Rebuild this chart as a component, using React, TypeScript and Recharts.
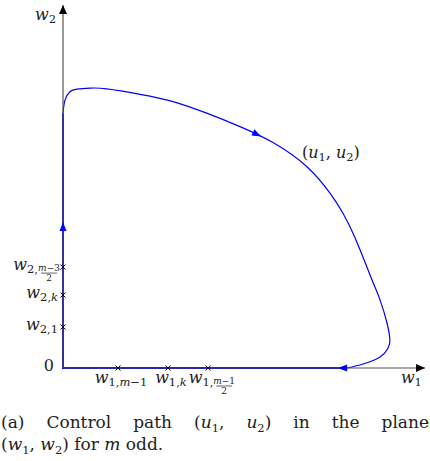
import { ComposedChart, Line, Scatter, XAxis, YAxis, ReferenceDot } from "recharts";

// control path (u1, u2), in plot units (0..100 on both axes)
const pathW1 = [0, 0.55, 1.9, 3.8, 7.5, 12.1, 21.3, 30.4, 39.7, 48.9, 58.0, 67.3, 73.8, 77.3, 80.7, 85.4, 87.6, 89.5, 90.3, 89.8, 87.6, 82.9, 78.5];
const pathW2 = [70.2, 73.8, 76.1, 76.8, 77.1, 76.9, 75.4, 73.4, 70.2, 66.5, 62.1, 55.5, 48.1, 42.7, 35.8, 24.2, 18.7, 12.4, 7.7, 5.5, 3.0, 1.1, 0];

// straight legs along the axes
const legW1 = [78.5, 0, 0];
const legW2 = [0, 0, 70.2];

// switching points on the axes
const crossW1 = [15.2, 29.0, 40.1];
const crossW2 = [11.3, 20.1, 27.8];
const yTicks = [0, 11.3, 20.1, 27.8];

// arrow heads on the path (tip position + heading in degrees)
const arrowW1 = [54.7, 0, 76.0];
const arrowW2 = [63.8, 40.2, 0];
const arrowAngle = [27, -90, 180];

// arrows at the ends of the axes
const axisArrowW1 = [0, 100];
const axisArrowW2 = [100, 0];
const axisArrowAngle = [-90, 0];

type Lbl = { main: string; sub?: string; num?: string; den?: string; dx?: number };
const xTickLabels: Lbl[] = [
  { main: "w", sub: "1,m−1" },
  { main: "w", sub: "1,k" },
  { main: "w", sub: "1,", num: "m−1", den: "2" },
];
const yTickLabels: Lbl[] = [
  { main: "0", dx: -4 },
  { main: "w", sub: "2,1" },
  { main: "w", sub: "2,k" },
  { main: "w", sub: "2,", num: "m−3", den: "2" },
];

const SERIF = "'DejaVu Serif', 'Liberation Serif', serif";
const INK = "#222";

const toPts = (xs: number[], ys: number[]) => xs.map((x, i) => ({ x, y: ys[i] }));
const pathData = toPts(pathW1, pathW2);
const legData = toPts(legW1, legW2);
const crossData = [...crossW1.map((x) => ({ x, y: 0 })), ...crossW2.map((y) => ({ x: 0, y }))];
const arrowData = arrowW1.map((x, i) => ({ x, y: arrowW2[i], angle: arrowAngle[i] }));
const axisArrowData = axisArrowW1.map((x, i) => ({ x, y: axisArrowW2[i], angle: axisArrowAngle[i] }));

// subscript text: letters italic, digits and commas upright
function subSpans(s: string) {
  return s.split("").map((c, i) => (
    <tspan key={i} fontStyle={/[a-z]/.test(c) ? "italic" : "normal"}>
      {c}
    </tspan>
  ));
}

const FRAC_W = 20;

function MathText({ x, y, lbl, anchor }: { x: number; y: number; lbl: Lbl; anchor: "end" | "middle" }) {
  const fracW = lbl.num ? FRAC_W : 0;
  const italic = lbl.main !== "0";
  // approximate width of main + subscript, used to put the fraction after it
  const mainW = 13 + (lbl.sub ? lbl.sub.length * 6.5 : 0);
  const tx = anchor === "end" ? x - fracW : x - fracW / 2;
  const fx = anchor === "end" ? x - fracW / 2 + 1 : tx + mainW / 2 + fracW / 2;
  return (
    <g>
      <text x={tx + (lbl.dx || 0)} y={y} textAnchor={anchor} fontFamily={SERIF} fill={INK}>
        <tspan fontSize={16} fontStyle={italic ? "italic" : "normal"}>{lbl.main}</tspan>
        {lbl.sub && (
          <tspan fontSize={11.5} dy={3}>
            {subSpans(lbl.sub)}
          </tspan>
        )}
      </text>
      {lbl.num && (
        <g fontFamily={SERIF} fill={INK} fontSize={9}>
          <text x={fx} y={y + 1} textAnchor="middle">
            {subSpans(lbl.num)}
          </text>
          <line x1={fx - 8} x2={fx + 8} y1={y + 3} y2={y + 3} stroke={INK} strokeWidth={0.7} />
          <text x={fx} y={y + 11} textAnchor="middle">
            {lbl.den}
          </text>
        </g>
      )}
    </g>
  );
}

function XTick(props: any) {
  const { x, y, index } = props;
  const lbl = xTickLabels[index];
  if (!lbl) return null;
  return <MathText x={x + 3} y={y + 15} lbl={lbl} anchor="middle" />;
}

function YTick(props: any) {
  const { x, y, index } = props;
  const lbl = yTickLabels[index];
  if (!lbl) return null;
  return <MathText x={x - 5} y={y + 3} lbl={lbl} anchor="end" />;
}

function Cross(props: any) {
  const { cx, cy } = props;
  const s = 2.5;
  return (
    <g stroke="#000" strokeWidth={1}>
      <line x1={cx - s} y1={cy - s} x2={cx + s} y2={cy + s} />
      <line x1={cx - s} y1={cy + s} x2={cx + s} y2={cy - s} />
    </g>
  );
}

function makeHead(color: string, len: number, half: number) {
  return function Head(props: any) {
    const { cx, cy, payload } = props;
    return (
      <polygon
        points={`0,0 ${-len},${-half} ${-len},${half}`}
        fill={color}
        transform={`translate(${cx},${cy}) rotate(${payload.angle})`}
      />
    );
  };
}

function TextAt(text: React.ReactNode, dx: number, dy: number) {
  return function T(props: any) {
    return (
      <text x={props.cx + dx} y={props.cy + dy} fontFamily={SERIF} fontSize={16} fill={INK}>
        {text}
      </text>
    );
  };
}

const subStyle: React.CSSProperties = { fontSize: 11.5, verticalAlign: "-4px", lineHeight: 0 };

export default function App() {
  return (
    <div style={{ width: 430 }}>
      <style>{"body{margin:0}"}</style>
      <ComposedChart width={430} height={395} margin={{ top: 5, right: 5, bottom: 0, left: 0 }}>
        <XAxis
          type="number"
          dataKey="x"
          domain={[0, 100]}
          ticks={crossW1}
          tick={<XTick />}
          tickLine={false}
          tickSize={0}
          tickMargin={0}
          axisLine={{ stroke: "#555", strokeWidth: 1.2 }}
          height={27}
        />
        <YAxis
          type="number"
          dataKey="y"
          domain={[0, 100]}
          ticks={yTicks}
          tick={<YTick />}
          tickLine={false}
          tickSize={0}
          tickMargin={0}
          axisLine={{ stroke: "#555", strokeWidth: 1.2 }}
          width={63}
        />
        <Line data={legData} dataKey="y" type="linear" stroke="#0000ff" strokeWidth={2} dot={false} isAnimationActive={false} />
        <Line data={pathData} dataKey="y" type="natural" stroke="#0000ff" strokeWidth={1.2} dot={false} isAnimationActive={false} />
        <Scatter data={crossData} dataKey="y" shape={<Cross />} isAnimationActive={false} />
        <Scatter data={arrowData} dataKey="y" shape={makeHead("#0000ff", 9, 3.5)} isAnimationActive={false} />
        <Scatter data={axisArrowData} dataKey="y" shape={makeHead("#000", 9, 4)} isAnimationActive={false} />
        <ReferenceDot
          x={95}
          y={0}
          r={0}
          shape={TextAt(
            <>
              <tspan fontStyle="italic">w</tspan>
              <tspan fontSize={11.5} dy={3}>1</tspan>
            </>,
            -6,
            15
          )}
        />
        <ReferenceDot
          x={0}
          y={96.4}
          r={0}
          shape={TextAt(
            <>
              <tspan fontStyle="italic">w</tspan>
              <tspan fontSize={11.5} dy={3}>2</tspan>
            </>,
            -28,
            2
          )}
        />
        <ReferenceDot
          x={74}
          y={59}
          r={0}
          shape={TextAt(
            <>
              (<tspan fontStyle="italic">u</tspan>
              <tspan fontSize={11.5} dy={3}>1</tspan>
              <tspan dy={-3}>, </tspan>
              <tspan fontStyle="italic">u</tspan>
              <tspan fontSize={11.5} dy={3}>2</tspan>
              <tspan dy={-3}>)</tspan>
            </>,
            -29,
            4
          )}
        />
      </ComposedChart>
      <div style={{ fontFamily: SERIF, fontSize: 17, lineHeight: "22px", color: INK, marginTop: 16, padding: "0 1px" }}>
        <div style={{ textAlign: "justify", textAlignLast: "justify" }}>
          (a) Control path (<i>u</i>
          <span style={subStyle}>1</span>, <i>u</i>
          <span style={subStyle}>2</span>) in the plane
        </div>
        <div>
          (<i>w</i>
          <span style={subStyle}>1</span>, <i>w</i>
          <span style={subStyle}>2</span>) for <i>m</i> odd.
        </div>
      </div>
    </div>
  );
}
